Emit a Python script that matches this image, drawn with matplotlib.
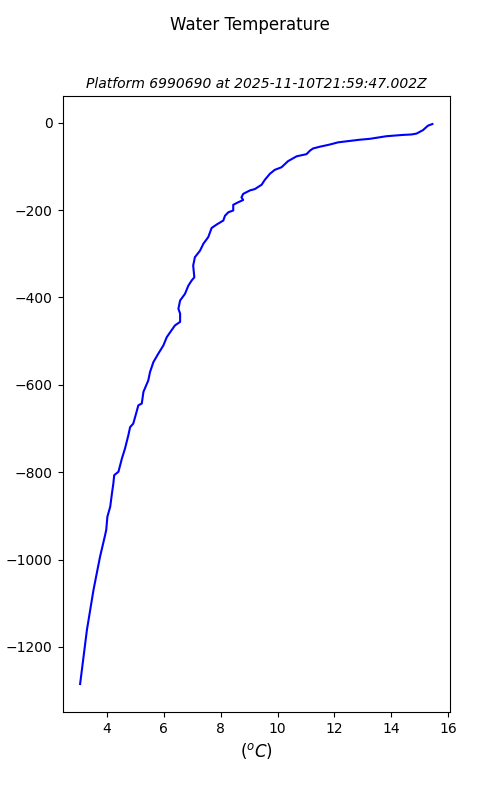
import matplotlib
matplotlib.use("Agg")
import matplotlib.pyplot as plt

# perfil: temperatura (C) y profundidad (m)
temp = [15.45, 15.29, 15.12, 14.89, 14.71, 14.41, 13.83, 13.24, 12.89, 12.13,
        11.84, 11.49, 11.25, 11.14, 11.02, 10.67, 10.37, 10.14, 9.90, 9.73,
        9.55, 9.44, 9.20, 9.03, 8.79, 8.73, 8.79, 8.62, 8.44,
        8.44, 8.27, 8.15, 8.09, 7.86, 7.68, 7.56, 7.39, 7.27, 7.09,
        7.03, 7.07, 6.98, 6.86, 6.74, 6.57, 6.51, 6.57, 6.57, 6.39,
        6.27, 6.10, 5.98, 5.80, 5.63, 5.51, 5.45, 5.28, 5.22, 5.10,
        5.02, 4.92, 4.81, 4.75, 4.63, 4.52, 4.40, 4.25, 4.22, 4.17,
        4.11, 4.01, 3.97, 3.93, 3.75, 3.52, 3.29, 3.05]
depth = [-3, -7, -17, -25, -27, -28, -31, -37, -39, -45,
         -50, -55, -59, -64, -72, -77, -88, -102, -108, -117,
         -131, -142, -152, -155, -163, -171, -177, -182, -188,
         -201, -205, -213, -224, -233, -241, -262, -277, -293, -308,
         -327, -354, -361, -373, -392, -407, -426, -437, -456, -464,
         -475, -491, -510, -529, -548, -571, -590, -616, -643, -647,
         -666, -689, -697, -715, -746, -769, -799, -807, -826, -849,
         -879, -902, -932, -944, -994, -1070, -1161, -1285]

titulo = "Water Temperature"
subtitulo = "Platform 6990690 at 2025-11-10T21:59:47.002Z"

fig = plt.figure(figsize=(5, 8), dpi=100)
ax = fig.add_subplot(111)
ax.plot(temp, depth, color="blue", linewidth=1.5)

fig.suptitle(titulo, fontsize=12)
ax.set_title(subtitulo, fontsize=10, style="italic")
ax.set_xlabel(r"$(^oC)$", fontsize=12)
ax.set_ylabel("depth (m)")

fig.savefig("out.png")
